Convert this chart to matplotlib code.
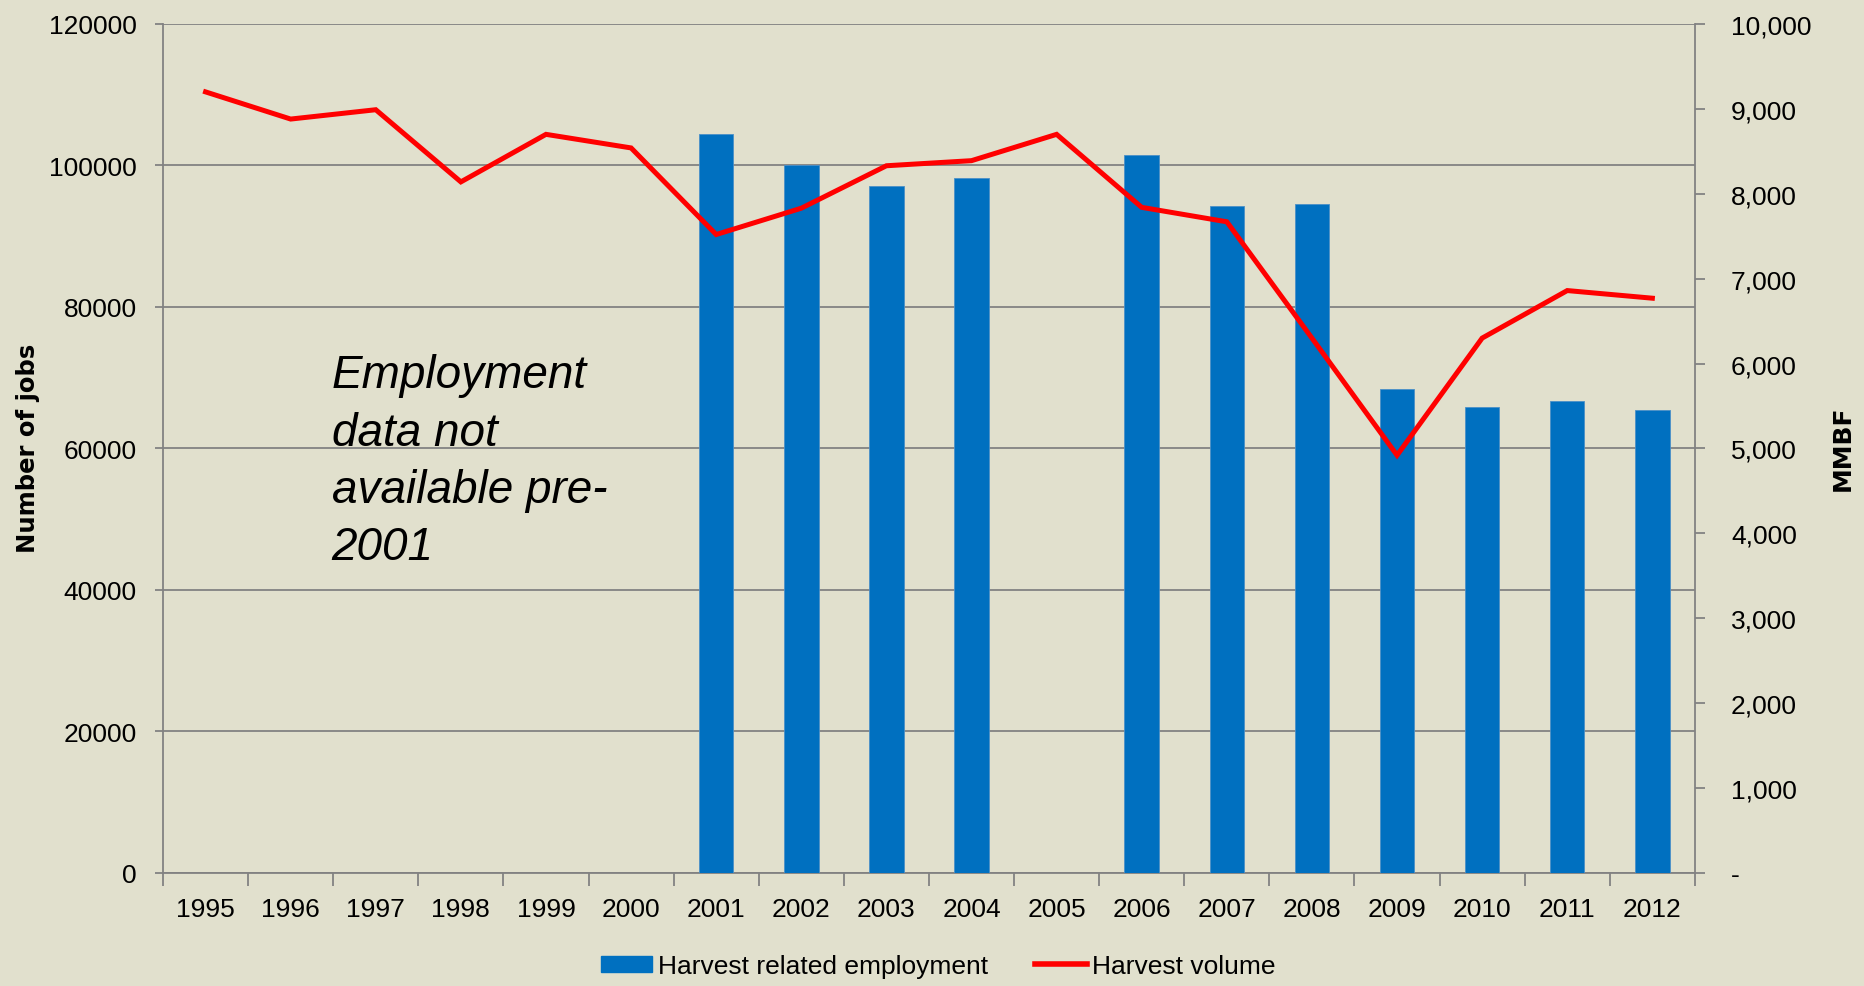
import numpy as np
import matplotlib
matplotlib.use("Agg")
import matplotlib.pyplot as plt
from matplotlib.patches import Patch
from matplotlib.lines import Line2D
from matplotlib.ticker import FuncFormatter

# data
years = ['1995', '1996', '1997', '1998', '1999', '2000', '2001', '2002', '2003',
         '2004', '2005', '2006', '2007', '2008', '2009', '2010', '2011', '2012']
employment = [np.nan, np.nan, np.nan, np.nan, np.nan, np.nan, 104400, 100000, 97100,
              98300, np.nan, 101500, 94300, 94600, 68400, 65900, 66700, 65500]
volume = [9200, 8880, 8990, 8140, 8700, 8540, 7520, 7830, 8330,
          8390, 8700, 7840, 7670, 6300, 4920, 6300, 6860, 6770]

bg = '#E1E0CD'
grey = '#828282'
blue = '#0070C0'
red = '#FF0000'
plt.rcParams['font.family'] = ['Liberation Sans', 'DejaVu Sans']

fig = plt.figure(figsize=(18.65, 9.87), dpi=100, facecolor=bg)
ax1 = fig.add_axes([0.0874, 0.1145, 0.8214, 0.8602])
ax1.set_facecolor(bg)
x = np.arange(len(years))

ax1.bar(x, employment, width=0.405, color=blue, edgecolor='#4a90c8', linewidth=0.6, zorder=3)
ax1.set_ylim(0, 120000)
ax1.set_xlim(-0.5, len(years) - 0.5)
ax1.set_yticks(np.arange(0, 120001, 20000))
ax1.yaxis.grid(True, color=grey, linewidth=1.3, zorder=0)
ax1.set_axisbelow(True)

# ticks sit between categories, labels at the centres
ax1.set_xticks(np.arange(-0.5, len(years), 1.0))
ax1.set_xticklabels([])
ax1.set_xticks(x, minor=True)
ax1.set_xticklabels(years, minor=True, fontsize=19)
ax1.tick_params(axis='x', which='major', length=9, width=1.3, color=grey, direction='out')
ax1.tick_params(axis='x', which='minor', length=0, pad=17)
ax1.tick_params(axis='y', length=6, width=1.3, color=grey, labelsize=19, pad=13)

for side in ['left', 'right', 'bottom']:
    ax1.spines[side].set_color(grey)
    ax1.spines[side].set_linewidth(1.3)
ax1.spines['top'].set_visible(False)

ax2 = ax1.twinx()
ax2.plot(x, volume, color=red, linewidth=3.6, solid_joinstyle='miter', zorder=4)
ax2.set_ylim(0, 10000)
ax2.set_yticks(np.arange(0, 10001, 1000))
ax2.yaxis.set_major_formatter(FuncFormatter(lambda v, p: '-' if v == 0 else f'{int(v):,}'))
ax2.tick_params(axis='y', length=7, width=1.3, color=grey, labelsize=19, pad=19)
for lab in ax2.get_yticklabels():
    lab.set_horizontalalignment('left')
for side in ['left', 'right', 'bottom', 'top']:
    ax2.spines[side].set_visible(False)

fig.text(0.015, 0.546, 'Number of jobs', rotation=90, ha='center', va='center',
         fontsize=17.5, fontweight='bold', family='DejaVu Sans')
fig.text(0.988, 0.546, 'MMBF', rotation=90, ha='center', va='center',
         fontsize=18, fontweight='bold', family='DejaVu Sans')

ax1.text(0.110, 0.612, 'Employment\ndata not\navailable pre-\n2001', transform=ax1.transAxes,
         ha='left', va='top', fontsize=33, style='italic', linespacing=1.39)

handles = [Patch(facecolor=blue, edgecolor=blue),
           Line2D([0], [0], color=red, linewidth=4)]
fig.legend(handles, ['Harvest related employment', 'Harvest volume'],
           loc='center', bbox_to_anchor=(0.503, 0.020), ncol=2, frameon=False,
           fontsize=19, handlelength=1.95, handleheight=0.6, handletextpad=0.2,
           columnspacing=1.8)

fig.savefig('out.png', dpi=100, facecolor=bg)
